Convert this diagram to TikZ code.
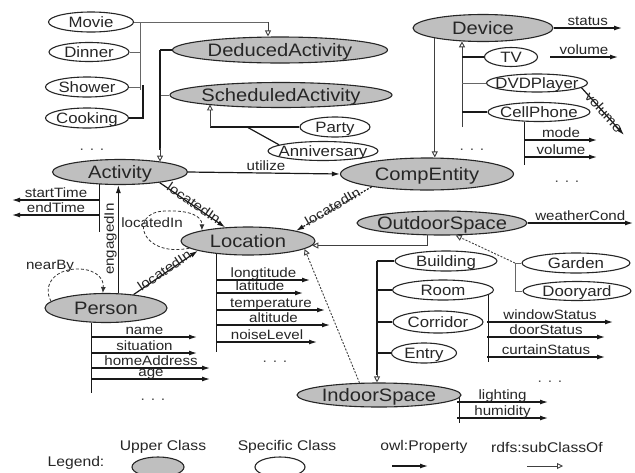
\documentclass[tikz,border=0pt]{standalone}
\usepackage{fontspec}
\setmainfont{Liberation Sans}[FakeStretch=1.12]
\usetikzlibrary{arrows.meta,shapes.geometric}
\newcommand\zb[1]{\makebox[0pt]{#1}}
\begin{document}
\begin{tikzpicture}[x=1pt,y=-1pt,
  upper/.style={ellipse,draw=black!85,line width=1.1pt,fill=black!25,inner sep=0pt,text height=13pt,text depth=0pt,font=\fontsize{18}{18}\selectfont,text=black!85},
  spec/.style={ellipse,draw=black!85,line width=1.1pt,fill=white,inner sep=0pt,text height=11pt,text depth=0pt,font=\fontsize{15}{15}\selectfont,text=black!85},
  prop/.style={line width=1.2pt,draw=black!90,-{Latex[length=8pt,width=5pt]}},
  plain/.style={line width=1.2pt,draw=black!90},
  sub/.style={line width=0.9pt,draw=black!75,-{Triangle[open,length=6pt,width=6pt]}},
  subl/.style={line width=0.9pt,draw=black!60},
  dotline/.style={dash pattern=on 2pt off 1.5pt},
  selfloop/.style={line width=0.8pt,dash pattern=on 3pt off 2pt,draw=black!80,-{Latex[length=6pt,width=5pt]}},
  plab/.style={font=\fontsize{13.5}{13.5}\selectfont,text=black!85,inner sep=0pt,anchor=base,yshift=2.5pt},
  olab/.style={font=\fontsize{13.5}{13.5}\selectfont,text=black!85,inner sep=1pt},
  dots/.style={font=\fontsize{14}{14}\selectfont,text=black!70,inner sep=0pt},
  leg/.style={font=\fontsize{14}{14}\selectfont,text=black!85,inner sep=0pt}
]
\useasboundingbox (0,0) rectangle (635,472);
\clip (0,0) rectangle (635,472);
\fill[white] (0,0) rectangle (635,472);

% ---------- nodes ----------
\node[spec,minimum width=85pt,minimum height=20pt] (Movie) at (91,22) {\zb{Movie}};
\node[spec,minimum width=80pt,minimum height=19pt] (Dinner) at (89,52) {\zb{Dinner}};
\node[spec,minimum width=83pt,minimum height=20pt] (Shower) at (87,87) {\zb{Shower}};
\node[spec,minimum width=83pt,minimum height=20pt] (Cooking) at (87,118) {\zb{Cooking}};
\node[upper,minimum width=215pt,minimum height=26pt] (DeducedActivity) at (280,50) {\zb{DeducedActivity}};
\node[upper,minimum width=222pt,minimum height=25pt] (ScheduledActivity) at (281,95) {\zb{ScheduledActivity}};
\node[spec,minimum width=70pt,minimum height=20pt] (Party) at (335,127) {\zb{Party}};
\node[spec,minimum width=110pt,minimum height=19pt] (Anniversary) at (323,151) {\zb{Anniversary}};
\node[upper,minimum width=135pt,minimum height=25pt] (Activity) at (120,172) {\zb{Activity}};
\node[upper,minimum width=173pt,minimum height=32pt] (CompEntity) at (427,174) {\zb{CompEntity}};
\node[upper,minimum width=140pt,minimum height=27pt] (Device) at (483,28) {\zb{Device}};
\node[spec,minimum width=53pt,minimum height=19pt] (TV) at (511,57) {\zb{TV}};
\node[spec,minimum width=101pt,minimum height=18pt] (DVDPlayer) at (537,83) {\zb{DVDPlayer}};
\node[spec,minimum width=102pt,minimum height=19pt] (CellPhone) at (539,112) {\zb{CellPhone}};
\node[upper,minimum width=134pt,minimum height=28pt] (Location) at (248,241) {\zb{Location}};
\node[upper,minimum width=170pt,minimum height=24pt] (OutdoorSpace) at (442,223) {\zb{OutdoorSpace}};
\node[spec,minimum width=102pt,minimum height=20pt] (Building) at (446,261) {\zb{Building}};
\node[spec,minimum width=101pt,minimum height=20pt] (Room) at (443,290) {\zb{Room}};
\node[spec,minimum width=90pt,minimum height=22pt] (Corridor) at (438,322) {\zb{Corridor}};
\node[spec,minimum width=65pt,minimum height=20pt] (Entry) at (424,353) {\zb{Entry}};
\node[spec,minimum width=108pt,minimum height=20pt] (Garden) at (576,263) {\zb{Garden}};
\node[spec,minimum width=108pt,minimum height=19pt] (Dooryard) at (577,291) {\zb{Dooryard}};
\node[upper,minimum width=122pt,minimum height=29pt] (Person) at (106,308) {\zb{Person}};
\node[upper,minimum width=164pt,minimum height=24pt] (IndoorSpace) at (379,395) {\zb{IndoorSpace}};

% ---------- activity hierarchy ----------
\coordinate (mv) at (268,22);
\draw[subl] (Movie.east) -- (mv);
\draw[sub] (mv) -- (mv |- DeducedActivity.north);
\coordinate (lc) at (140,22);
\draw[subl] (lc) -- (140,90);
\draw[subl] (Dinner.east) -- (Dinner.east -| lc);
\draw[subl] (Shower.east) -- (Shower.east -| lc);
\coordinate (ck) at (143,85);
\draw[line width=2pt,black!90] (Cooking.east) -| (ck);
\node[dots] (d1) at (92,150) {. . .};

\coordinate (da) at (160,50);
\draw[plain] (DeducedActivity.west) -- (DeducedActivity.west -| da);
\draw[subl] (ScheduledActivity.west) -- (ScheduledActivity.west -| da);
\draw[plain] (da) -- (160,150);
\draw[sub] (160,148) -- (da |- Activity.14);

\coordinate (pj) at (210,127);
\coordinate (aj) at (247,127);
\draw[plain] (Party.west) -- (pj);
\draw[sub] (pj) -- (pj |- ScheduledActivity.187.7);
\draw[plain] (Anniversary.172) -- (aj);

% ---------- Activity properties ----------
\coordinate (av) at (100,232);
\draw[plain] (Activity.211) -- (Activity.211 |- av);
\draw[prop] (av |- 0,200) -- (12,200) node[plab,midway] (lSt) {startTime};
\draw[prop] (av |- 0,215) -- (12,215) node[plab,midway] (lEt) {endTime};
\draw[prop] (Activity.east) -- (CompEntity.west) node[plab,midway,xshift=2pt] (lUt) {utilize};
\draw[prop] (Person.50) -- (Person.50 |- Activity.south) node[olab,midway,rotate=90,anchor=south] (lEng) {engagedIn};
\draw[prop] (Activity.-15) -- (Location.149) node[olab,midway,sloped,above=-4pt] (lLoc1) {locatedIn};
\draw[prop] (Person.26) -- (Location.191) node[olab,midway,sloped,above=-4pt] (lLoc2) {locatedIn};
\draw[prop,dotline] (CompEntity.193) -- (Location.12) node[olab,midway,sloped,above=-4pt] (lLoc3) {locatedIn};

% self loops
\draw[selfloop] (Location.187) .. controls (140,258) and (128,212) .. (165,211) .. controls (190,210) and (202,216) .. (Location.167);
\node[olab] (lLoop) at (152,223) {locatedIn};
\draw[selfloop] (Person.173) .. controls (42,285) and (55,268) .. (80,269) .. controls (98,270) and (104,280) .. (Person.102);
\node[olab] (lNear) at (50,266) {nearBy};

% ---------- Location properties ----------
\coordinate (lv) at (217,352);
\draw[plain] (Location.202) -- (Location.202 |- lv);
\draw[prop] (lv |- 0,280) -- (310,280) node[plab,midway] (lLon) {longtitude};
\draw[prop] (lv |- 0,293) -- (303,293) node[plab,midway] (lLat) {latitude};
\draw[prop] (lv |- 0,310) -- (325,310) node[plab,midway] (lTem) {temperature};
\draw[prop] (lv |- 0,325) -- (330,325) node[plab,midway] (lAlt) {altitude};
\draw[prop] (lv |- 0,342) -- (317,342) node[plab,midway] (lNoi) {noiseLevel};
\node[dots] (d2) at (275,362) {. . .};

% ---------- Person properties ----------
\coordinate (pv) at (92,393);
\draw[plain] (Person.225) -- (Person.225 |- pv);
\draw[prop] (pv |- 0,337) -- (197,337) node[plab,midway] (lNam) {name};
\draw[prop] (pv |- 0,353) -- (197,353) node[plab,midway] (lSit) {situation};
\draw[prop] (pv |- 0,368) -- (210,368) node[plab,midway] (lHom) {homeAddress};
\draw[prop] (pv |- 0,379) -- (210,379) node[plab,midway] (lAge) {age};
\node[dots] (d3) at (153,400) {. . .};

% ---------- Device ----------
\coordinate (dj) at (462,127);
\draw[sub] (dj) -- (dj |- Device.211.6);
\draw[plain] (TV.west) -- (TV.west -| dj);
\draw[subl] (DVDPlayer.west) -- (DVDPlayer.west -| dj);
\draw[plain] (CellPhone.west) -- (CellPhone.west -| dj);
\draw[sub] (Device.192.5) -- (Device.192.5 |- CompEntity.north);
\node[dots] (d4) at (472,150) {. . .};
\draw[prop] (Device.east) -- (622,28) node[plab,midway] (lSta) {status};
\draw[prop] (TV.east) ++(12,0) -- (618,57) node[plab,midway] (lVol1) {volume};
\draw[prop] (DVDPlayer.-6) -- (624,135) node[olab,pos=0.52,sloped,above=-6pt] (lVol2) {volume};
\coordinate (cv) at (525,165);
\draw[plain] (CellPhone.213) -- (CellPhone.213 |- cv);
\draw[prop] (cv |- 0,140) -- (597,140) node[plab,midway] (lMod) {mode};
\draw[prop] (cv |- 0,157) -- (597,157) node[plab,midway] (lVol3) {volume};
\node[dots] (d5) at (567,182) {. . .};

% ---------- spaces ----------
\draw[sub] (OutdoorSpace.220) |- (Location.-4.6);
\draw[prop] (OutdoorSpace.east) -- (633,223) node[plab,midway] (lWea) {weatherCond};
\coordinate (gj) at (515,263);
\draw[subl] (Garden.west) -- (gj);
\draw[subl] (gj) |- (Dooryard.west);
\draw[sub,dotline] (gj) -- (OutdoorSpace.-42.4);

\coordinate (ij) at (377,261);
\draw[plain] (ij) -- (377,375);
\draw[sub] (377,370) -- (ij |- IndoorSpace.north);
\draw[plain] (Building.west) -- (Building.west -| ij);
\draw[plain] (Room.west) -- (Room.west -| ij);
\draw[plain] (Corridor.west) -- (Corridor.west -| ij);
\draw[plain] (Entry.west) -- (Entry.west -| ij);
\draw[sub,dotline] (IndoorSpace.148.4) -- (Location.-8.3);

\coordinate (rv) at (487,362);
\draw[plain] (Room.-6.4) -- (Room.-6.4 |- rv);
\draw[prop] (rv |- 0,322) -- (613,322) node[plab,midway] (lWin) {windowStatus};
\draw[prop] (rv |- 0,337) -- (605,337) node[plab,midway] (lDoo) {doorStatus};
\draw[prop] (rv |- 0,357) -- (605,357) node[plab,midway] (lCur) {curtainStatus};
\node[dots] (d6) at (550,382) {. . .};

\coordinate (iv) at (457,423);
\draw[plain] (IndoorSpace.-2.7) -- (IndoorSpace.-2.7 |- iv);
\draw[prop] (iv |- 0,402) -- (548,402) node[plab,midway] (lLig) {lighting};
\draw[prop] (iv |- 0,418) -- (548,418) node[plab,midway] (lHum) {humidity};

% ---------- legend ----------
\node[leg] (legT) at (76,463) {Legend:};
\node[leg] (legU) at (163,447) {Upper Class};
\node[leg] (legS) at (287,447) {Specific Class};
\node[leg] (legP) at (424,447) {owl:Property};
\node[leg] (legC) at (547,447) {rdfs:subClassOf};
\node[upper,minimum width=52pt,minimum height=20pt] (legUe) at (158,467) {};
\node[spec,minimum width=50pt,minimum height=20pt] (legSe) at (280,467) {};
\coordinate (lp1) at (392,466); \coordinate (lp2) at (428,466);
\draw[prop] (lp1) -- (lp2);
\coordinate (ls1) at (527,466); \coordinate (ls2) at (563,466);
\draw[sub] (ls1) -- (ls2);
\end{tikzpicture}
\end{document}
